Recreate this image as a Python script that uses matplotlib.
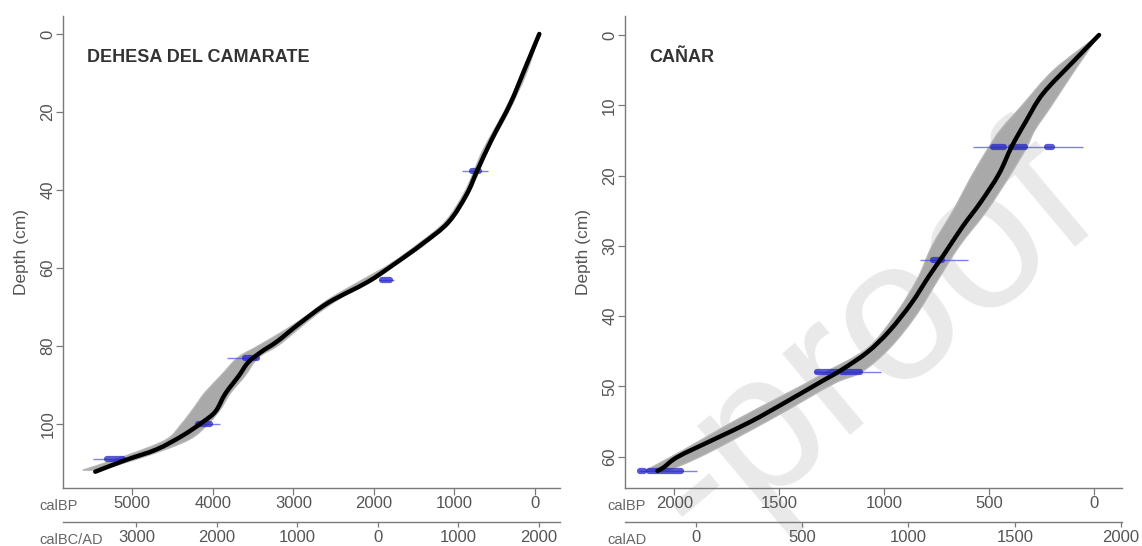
import matplotlib
matplotlib.use("Agg")
import matplotlib.pyplot as plt
import numpy as np
from matplotlib.path import Path
from matplotlib.patches import PathPatch
from matplotlib.ticker import FixedLocator, FuncFormatter

plt.rcParams['font.family'] = ['Liberation Sans', 'DejaVu Sans']

# ---------------- DATA ----------------
# Dehesa del Camarate: age-depth model (depth cm, cal BP)
dc_depth = [0, 9, 17.9, 26.9, 34.9, 41.2, 48.3, 53.7, 59.1, 63.6, 68.9, 74.3, 78.8,
            81.5, 84.2, 87.7, 92.2, 96.7, 99.4, 103, 106.5, 109.2, 112.2]
dc_age = [-54, 127, 307, 533, 714, 850, 1076, 1392, 1754, 2080, 2568, 2929, 3201,
          3400, 3562, 3680, 3845, 3965, 4120, 4380, 4700, 5080, 5460]
# uncertainty envelope (depth, older bound, younger bound)
dc_band_depth = [0, 10, 20, 30, 40, 48, 54, 59, 63, 68, 72, 76, 80, 83, 87.6, 92, 96, 100, 104, 108, 111.8]
dc_band_old = [-54, 150, 385, 650, 860, 1110, 1460, 1800, 2140, 2560, 2820, 3110, 3440, 3690, 3900, 4100, 4240, 4390, 4580, 5060, 5615]
dc_band_young = [-54, 105, 330, 590, 800, 1040, 1370, 1720, 2040, 2440, 2720, 2960, 3200, 3440, 3600, 3780, 3900, 4060, 4300, 4800, 5400]
# calibrated dates: depth, full range, high-probability ranges
dc_dates_depth = [35, 63, 83, 100, 109]
dc_dates_range = [(580, 905), (1754, 1935), (3453, 3826), (3913, 4186), (5068, 5490)]
dc_dates_peaks = [[(700, 780)], [(1800, 1900)], [(3455, 3600)], [(4040, 4180)], [(5120, 5320)]]

# Cañar: age-depth model
ca_depth = [0, 4, 8.4, 12.4, 15.9, 19.8, 23.8, 27.3, 31.2, 34.2, 38.2, 42.1, 45.1,
            47.6, 49.1, 52.1, 55.0, 57.5, 60, 61.5, 62]
ca_age = [-26, 104, 243, 325, 391, 452, 539, 626, 713, 783, 870, 974, 1078,
          1200, 1287, 1461, 1635, 1809, 1983, 2050, 2080]
ca_band_depth = [0, 5, 10, 13.5, 16, 20, 25, 30, 34.7, 40, 44.6, 48, 49.6, 54.5, 59.5, 62]
ca_band_old = [-26, 190, 340, 444, 500, 580, 670, 770, 840, 950, 1080, 1280, 1374, 1687, 1983, 2140]
ca_band_young = [-26, 90, 200, 280, 320, 400, 510, 640, 740, 850, 975, 1110, 1240, 1530, 1843, 2030]
ca_dates_depth = [16, 32, 48, 62]
ca_dates_range = [(52, 577), (600, 826), (1015, 1333), (1890, 2168)]
ca_dates_peaks = [[(425, 482), (329, 396), (200, 220)], [(722, 765)],
                  [(1222, 1317), (1112, 1198)], [(2145, 2162), (1970, 2121)]]

# axis ticks
dc_yticks = [0, 20, 40, 60, 80, 100]
dc_bp_ticks = [5000, 4000, 3000, 2000, 1000, 0]
dc_bcad_ticks = [-3000, -2000, -1000, 0, 1000, 2000]
ca_yticks = [0, 10, 20, 30, 40, 50, 60]
ca_bp_ticks = [2000, 1500, 1000, 500, 0]
ca_ad_ticks = [0, 500, 1000, 1500, 2000]

WATERMARK = '-proof'

# ---------------- STYLE ----------------
W, H = 1142, 546
AX_COL = '#7a7a7a'
TXT_COL = '#555555'
BLUE_THIN = '#4646f0'
BLUE_PEAK = '#2222c8'

fig = plt.figure(figsize=(W / 100, H / 100), dpi=100)

# light diagonal watermark behind the panels
fig.text(1102 / W, 1 - 216 / H, WATERMARK, fontsize=144, color='#e9e9e9',
         rotation=40, rotation_mode='anchor', ha='right', va='baseline', zorder=0)

axL = fig.add_axes([63.3 / W, 1 - 487.7 / H, (560 - 63.3) / W, (487.7 - 16) / H])
axR = fig.add_axes([625 / W, 1 - 487.7 / H, (1121.7 - 625) / W, (487.7 - 16) / H])
for ax in (axL, axR):
    ax.set_facecolor('none')
    ax.set_zorder(1)


def smooth_verts(xs, ys):
    """Catmull-Rom spline through the points, expressed as cubic Bezier path pieces."""
    p = np.column_stack([xs, ys]).astype(float)
    verts = [p[0]]
    codes = [Path.MOVETO]
    n = len(p)
    for i in range(n - 1):
        p0 = p[i - 1] if i > 0 else p[i]
        p1, p2 = p[i], p[i + 1]
        p3 = p[i + 2] if i + 2 < n else p[i + 1]
        verts += [p1 + (p2 - p0) / 6.0, p2 - (p3 - p1) / 6.0, p2]
        codes += [Path.CURVE4] * 3
    return verts, codes


def style(ax, yticks, bpticks):
    for s in ['top', 'right']:
        ax.spines[s].set_visible(False)
    for s in ['left', 'bottom']:
        ax.spines[s].set_color(AX_COL)
        ax.spines[s].set_linewidth(1.0)
    ax.set_yticks(yticks)
    ax.set_xticks(bpticks)
    ax.tick_params(axis='both', direction='out', length=4.8, width=0.9,
                   color=AX_COL, labelcolor=TXT_COL, labelsize=12)
    ax.tick_params(axis='x', pad=1.2)
    ax.tick_params(axis='y', pad=0.8, labelrotation=90)
    for lab in ax.get_yticklabels():
        lab.set_va('center')
    ax.set_ylabel('Depth (cm)', fontsize=12.5, color=TXT_COL, labelpad=8)


def draw(ax, depth, age, bd, bo, by, dd, dr, dp):
    v1, c1 = smooth_verts(bo, bd)
    v2, c2 = smooth_verts(by[::-1], bd[::-1])
    verts = v1 + v2 + [v1[0]]
    codes = c1 + [Path.LINETO] + c2[1:] + [Path.CLOSEPOLY]
    ax.add_patch(PathPatch(Path(verts, codes), facecolor='#a9a9a9', edgecolor='#b5b5b5',
                           lw=1.0, zorder=2))
    for d, (lo, hi), peaks in zip(dd, dr, dp):
        ax.plot([lo, hi], [d, d], color=BLUE_THIN, lw=1.0, alpha=0.7, zorder=3,
                solid_capstyle='butt')
        for (p0, p1) in peaks:
            ax.plot([p0, p1], [d, d], color=BLUE_PEAK, lw=4.5, alpha=0.75, zorder=3,
                    solid_capstyle='round')
    vc, cc = smooth_verts(age, depth)
    ax.add_patch(PathPatch(Path(vc, cc), facecolor='none', edgecolor='black', lw=3.2,
                           capstyle='round', zorder=4))


# Left panel
draw(axL, dc_depth, dc_age, dc_band_depth, dc_band_old, dc_band_young,
     dc_dates_depth, dc_dates_range, dc_dates_peaks)
axL.set_xlim(5857, -311)
axL.set_ylim(116.3, -4.6)
style(axL, dc_yticks, dc_bp_ticks)
axL.text(0.0485, 0.912, 'DEHESA DEL CAMARATE', transform=axL.transAxes,
         fontsize=13, fontweight='bold', color='#333333', va='center', ha='left')

secL = axL.secondary_xaxis(-0.072, functions=(lambda bp: 1950 - bp, lambda ad: 1950 - ad))
secL.xaxis.set_major_locator(FixedLocator(dc_bcad_ticks))
secL.xaxis.set_major_formatter(FuncFormatter(lambda v, p: f'{abs(int(round(v)))}'))

# Right panel
draw(axR, ca_depth, ca_age, ca_band_depth, ca_band_old, ca_band_young,
     ca_dates_depth, ca_dates_range, ca_dates_peaks)
axR.set_xlim(2235, -134)
axR.set_ylim(64.4, -2.7)
style(axR, ca_yticks, ca_bp_ticks)
axR.text(0.049, 0.913, 'CAÑAR', transform=axR.transAxes,
         fontsize=13, fontweight='bold', color='#333333', va='center', ha='left')

AD0_BP = 1897.0     # where AD 0 sits on the printed scale
AD_SCALE = 2000.0 / 2028.0
secR = axR.secondary_xaxis(-0.072, functions=(lambda bp: AD_SCALE * (AD0_BP - bp),
                                              lambda ad: AD0_BP - ad / AD_SCALE))
secR.xaxis.set_major_locator(FixedLocator(ca_ad_ticks))
secR.xaxis.set_major_formatter(FuncFormatter(lambda v, p: f'{int(round(v))}'))

for sec in (secL, secR):
    sec.spines['bottom'].set_color(AX_COL)
    sec.spines['bottom'].set_linewidth(1.0)
    sec.tick_params(axis='x', direction='out', length=3.8, width=0.9, color=AX_COL,
                    labelcolor=TXT_COL, labelsize=12, pad=2.0)

# axis unit labels
for x, y, s in [(39.3, 506, 'calBP'), (39.3, 540, 'calBC/AD'),
                (607.6, 506, 'calBP'), (607.6, 540, 'calAD')]:
    fig.text(x / W, 1 - y / H, s, fontsize=10.5, color='#666666', ha='left', va='center')

fig.savefig('out.png', dpi=100)
